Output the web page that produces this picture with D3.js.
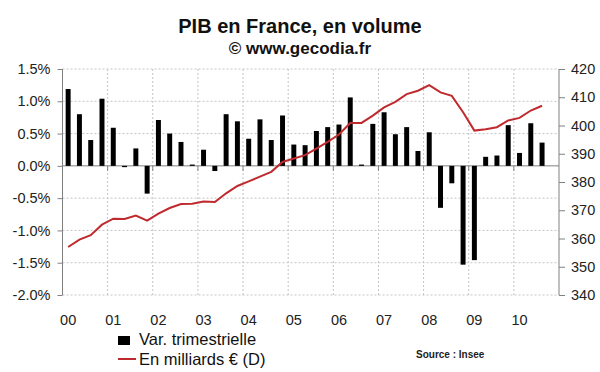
<!DOCTYPE html>
<html>
<head>
<meta charset="utf-8">
<script src="https://cdn.jsdelivr.net/npm/d3@7"></script>
<style>
  body { margin: 0; background: #fff; }
  text { font-family: "Liberation Sans", Arial, sans-serif; }
</style>
</head>
<body>
<script>
// year labels (one per 4 quarters)
var years = ["00", "01", "02", "03", "04", "05", "06", "07", "08", "09", "10"];

// quarterly change, % (2000 T1 .. 2010 T3)
var varTrim = [
  1.19, 0.80, 0.40, 1.04,
  0.59, -0.02, 0.27, -0.43,
  0.71, 0.50, 0.37, 0.02,
  0.25, -0.08, 0.80, 0.69,
  0.42, 0.72, 0.40, 0.78,
  0.33, 0.32, 0.54, 0.60,
  0.64, 1.06, 0.02, 0.65,
  0.83, 0.49, 0.60, 0.23,
  0.52, -0.65, -0.27, -1.53,
  -1.46, 0.14, 0.16, 0.63,
  0.20, 0.66, 0.36
];

// GDP in billions of euros (right axis)
var pibVolume = [
  357.0, 359.6, 361.2, 364.9,
  367.0, 366.9, 368.1, 366.3,
  368.8, 370.8, 372.2, 372.3,
  373.1, 372.9, 376.0, 378.6,
  380.2, 381.9, 383.6, 387.1,
  388.3, 389.5, 391.8, 394.2,
  396.8, 400.9, 400.9, 403.5,
  406.4, 408.4, 411.1, 412.3,
  414.3, 411.7, 410.5, 404.7,
  398.2, 398.7, 399.4, 401.8,
  402.7, 405.3, 407.0
];

var leftTicks = [1.5, 1.0, 0.5, 0.0, -0.5, -1.0, -1.5, -2.0];
var rightTicks = [420, 410, 400, 390, 380, 370, 360, 350, 340];

var width = 600, height = 372;
var x0 = 62.5, x1 = 559, y0 = 69, y1 = 295;

var svg = d3.select("body").append("svg")
  .attr("width", width)
  .attr("height", height);

var quarters = d3.range(years.length * 4);

// outer padding = inner/2 so each band is centred in its slot
var x = d3.scaleBand()
  .domain(quarters)
  .range([x0, x1])
  .paddingInner(0.56)
  .paddingOuter(0.28);

var yL = d3.scaleLinear().domain([-2.0, 1.5]).range([y1, y0]);
var yR = d3.scaleLinear().domain([340, 420]).range([y1, y0]);

var xMid = function(i) { return x(i) + x.bandwidth() / 2; };
var xEdge = function(i) { return xMid(i) - x.step() / 2; };

// grid
var grid = svg.append("g");
grid.selectAll("line.h")
  .data(leftTicks.filter(function(d) { return d !== 0; }))
  .enter().append("line")
  .attr("x1", x0).attr("x2", x1)
  .attr("y1", function(d) { return yL(d); })
  .attr("y2", function(d) { return yL(d); })
  .attr("stroke", "#c4c4c4")
  .attr("stroke-dasharray", "2,2");

grid.selectAll("line.v")
  .data(d3.range(1, years.length))
  .enter().append("line")
  .attr("x1", function(d) { return xEdge(d * 4); })
  .attr("x2", function(d) { return xEdge(d * 4); })
  .attr("y1", y0).attr("y2", y1)
  .attr("stroke", "#c4c4c4")
  .attr("stroke-dasharray", "2,2");

// zero line + year ticks
svg.append("line")
  .attr("x1", x0).attr("x2", x1)
  .attr("y1", yL(0)).attr("y2", yL(0))
  .attr("stroke", "#808080");

svg.append("g").selectAll("line")
  .data(d3.range(1, years.length))
  .enter().append("line")
  .attr("x1", function(d) { return xEdge(d * 4); })
  .attr("x2", function(d) { return xEdge(d * 4); })
  .attr("y1", yL(0)).attr("y2", yL(0) + 5)
  .attr("stroke", "#808080");

// bars
svg.append("g").selectAll("rect")
  .data(varTrim)
  .enter().append("rect")
  .attr("x", function(d, i) { return x(i); })
  .attr("width", x.bandwidth())
  .attr("y", function(d) { return yL(Math.max(0, d)); })
  .attr("height", function(d) { return Math.abs(yL(d) - yL(0)); })
  .attr("fill", "#000");

// line
var line = d3.line()
  .x(function(d, i) { return xMid(i); })
  .y(function(d) { return yR(d); });

svg.append("path")
  .datum(pibVolume)
  .attr("d", line)
  .attr("fill", "none")
  .attr("stroke", "#bf2a2e")
  .attr("stroke-width", 2);

// axes
var axisL = svg.append("g")
  .attr("transform", "translate(" + x0 + ",0)")
  .call(d3.axisLeft(yL).tickValues(leftTicks).tickSize(5).tickPadding(7)
    .tickFormat(function(d) { return d.toFixed(1) + "%"; }));

var axisR = svg.append("g")
  .attr("transform", "translate(" + x1 + ",0)")
  .call(d3.axisRight(yR).tickValues(rightTicks).tickSize(6).tickPadding(6));

[axisL, axisR].forEach(function(a) {
  a.selectAll("path, line").attr("stroke", "#808080");
  a.select(".domain").attr("d", "M0," + y0 + "V" + y1);
  a.selectAll("text")
    .attr("fill", "#222")
    .style("font-size", "14.5px")
    .style("font-family", "Liberation Sans, Arial, sans-serif");
});

// year labels
svg.append("g").selectAll("text")
  .data(years)
  .enter().append("text")
  .attr("x", function(d, i) { return xMid(i * 4); })
  .attr("y", 325)
  .attr("text-anchor", "middle")
  .attr("fill", "#222")
  .style("font-size", "14.5px")
  .text(function(d) { return d; });

// titles
svg.append("text")
  .attr("x", 300).attr("y", 33)
  .attr("text-anchor", "middle")
  .style("font-size", "20px")
  .style("font-weight", "bold")
  .attr("fill", "#111")
  .text("PIB en France, en volume");

svg.append("text")
  .attr("x", 300).attr("y", 54)
  .attr("text-anchor", "middle")
  .style("font-size", "17px")
  .style("font-weight", "bold")
  .attr("fill", "#111")
  .text("\u00a9 www.gecodia.fr");

// legend
var legend = svg.append("g");
legend.append("rect")
  .attr("x", 118).attr("y", 336)
  .attr("width", 12).attr("height", 9)
  .attr("fill", "#000");
legend.append("text")
  .attr("x", 139).attr("y", 345)
  .style("font-size", "16.5px")
  .attr("fill", "#111")
  .text("Var. trimestrielle");
legend.append("line")
  .attr("x1", 118).attr("x2", 136)
  .attr("y1", 359).attr("y2", 359)
  .attr("stroke", "#bf2a2e")
  .attr("stroke-width", 2);
legend.append("text")
  .attr("x", 139).attr("y", 365)
  .style("font-size", "16.5px")
  .attr("fill", "#111")
  .text("En milliards \u20ac (D)");

svg.append("text")
  .attr("x", 416).attr("y", 358)
  .style("font-size", "10px")
  .style("font-weight", "bold")
  .attr("fill", "#222")
  .text("Source : Insee");
</script>
</body>
</html>
